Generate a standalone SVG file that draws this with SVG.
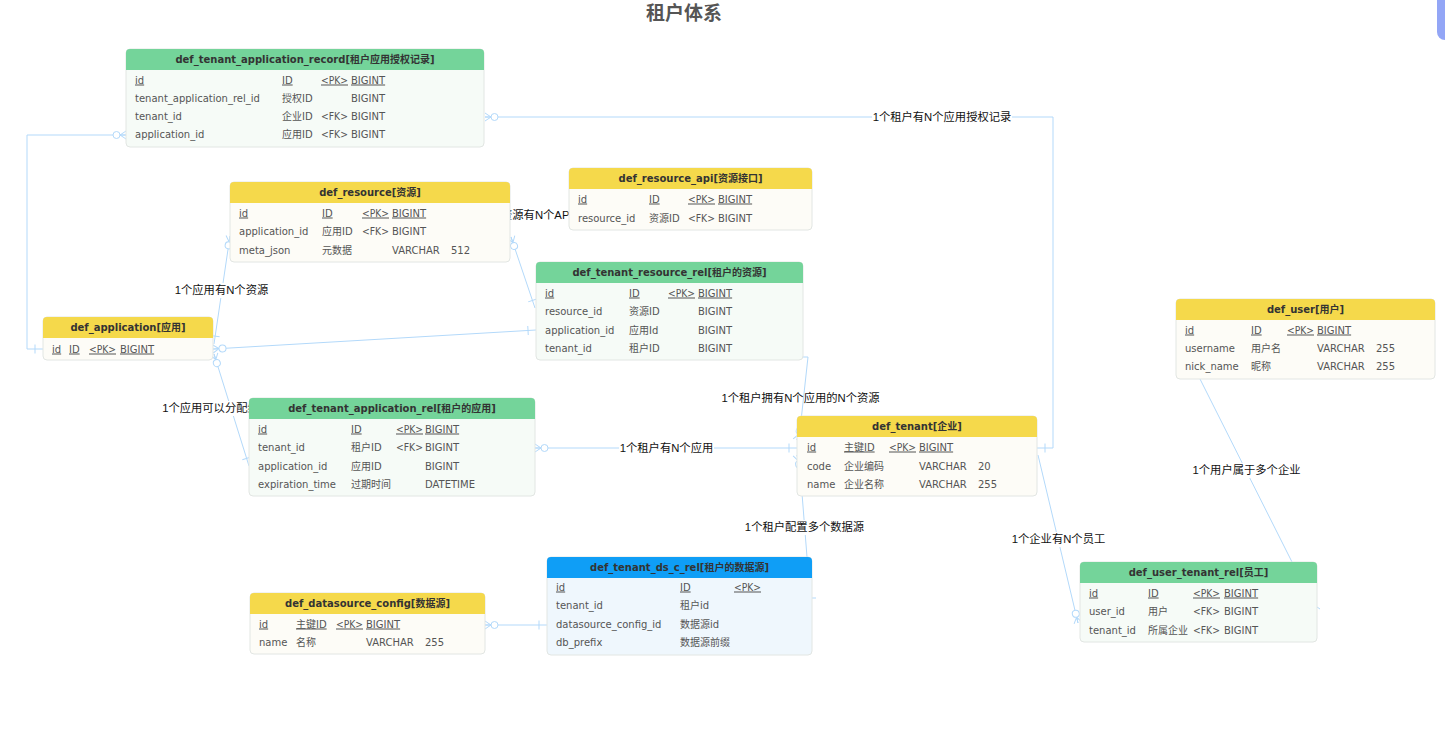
<svg xmlns="http://www.w3.org/2000/svg" width="1445" height="731" viewBox="0 0 1445 731">
<style>
.body{stroke:#e2e6e3;stroke-width:1}
.g .body{fill:#f6fbf7}.y .body{fill:#fdfcf7}.b .body{fill:#eff7fd}
.g .hdr{fill:#74d49a}.y .hdr{fill:#f5d94b}.b .hdr{fill:#0f9ef6}
.hd{font-family:"DejaVu Sans","Noto Sans CJK SC",sans-serif;font-size:10px;font-weight:bold;fill:#333;text-anchor:middle}
.c{font-family:"DejaVu Sans","Noto Sans CJK SC",sans-serif;font-size:10px;fill:#555}
.u{text-decoration:underline}
.lbl{font-family:"Liberation Sans","Noto Sans CJK SC",sans-serif;font-size:11.3px;fill:#111;text-anchor:middle}
.lb{fill:#fff}
.ln{fill:none;stroke:#b3d9fa;stroke-width:1}
.title{font-family:"Noto Sans CJK SC",sans-serif;font-size:19px;font-weight:bold;fill:#555;text-anchor:middle}
</style>
<defs>
<marker id="crowO" markerUnits="userSpaceOnUse" markerWidth="20" markerHeight="20" viewBox="-16 -8 20 16" refX="0" refY="0" orient="auto-start-reverse">
<path d="M0,-4 L-6,0 L0,4 M0,0 H-6" fill="none" stroke="#b3d9fa" stroke-width="1"/>
<circle cx="-9.5" cy="0" r="3.5" fill="#fff" stroke="#b3d9fa" stroke-width="1"/>
</marker>
<marker id="one" markerUnits="userSpaceOnUse" markerWidth="20" markerHeight="20" viewBox="-16 -8 20 16" refX="0" refY="0" orient="auto-start-reverse">
<path d="M-8,-4.5 V4.5" fill="none" stroke="#b3d9fa" stroke-width="1"/>
</marker>
</defs>
<rect width="1445" height="731" fill="#fff"/>
<rect x="1437" y="-20" width="30" height="60" rx="8" fill="#93a6f6"/>
<text class="title" x="684" y="20">租户体系</text>

<g id="connectors">
<path class="ln" d="M485,117 H1053 V448 H1037" marker-start="url(#crowO)" marker-end="url(#one)"/>
<path class="ln" d="M126,135 H27 V349 H43" marker-start="url(#crowO)" marker-end="url(#one)"/>
<path class="ln" d="M230,236 L214,344" marker-start="url(#crowO)" marker-end="url(#one)"/>
<path class="ln" d="M511,237 L535,308" marker-start="url(#crowO)" marker-end="url(#one)"/>
<path class="ln" d="M213,349 L536,330" marker-start="url(#crowO)" marker-end="url(#one)"/>
<path class="ln" d="M214,354 L249,466" marker-start="url(#crowO)" marker-end="url(#one)"/>
<path class="ln" d="M535,448 H797" marker-start="url(#crowO)" marker-end="url(#one)"/>
<path class="ln" d="M803,357 H808 L800,430 L797,440" marker-end="url(#crowO)"/>
<path class="ln" d="M797,455 L800,468 L807,557" marker-start="url(#crowO)"/>
<path class="ln" d="M485,625 H547" marker-start="url(#crowO)" marker-end="url(#one)"/>
<path class="ln" d="M1038,455 L1078,623" marker-end="url(#crowO)"/>
<path class="ln" d="M1200,379 L1292,562"/>
<path class="ln" d="M812,598 H816"/>
<path class="ln" d="M1317,607 L1320,609"/>
</g>

<g id="labels">
<rect class="lb" x="872" y="110" width="140" height="15"/>
<text class="lbl" x="942" y="121">1个租户有N个应用授权记录</text>
<rect class="lb" x="174" y="283" width="95" height="15"/>
<text class="lbl" x="221.5" y="294">1个应用有N个资源</text>
<rect class="lb" x="483" y="208" width="90" height="15"/>
<text class="lbl" x="528" y="219">1个资源有N个API</text>
<rect class="lb" x="161" y="401" width="141" height="15"/>
<text class="lbl" x="231.5" y="412">1个应用可以分配给N个租户</text>
<text class="lbl" x="800.5" y="402">1个租户拥有N个应用的N个资源</text>
<rect class="lb" x="619" y="441" width="95" height="15"/>
<text class="lbl" x="666.5" y="452">1个租户有N个应用</text>
<rect class="lb" x="744" y="520" width="121" height="15"/>
<text class="lbl" x="804.5" y="531">1个租户配置多个数据源</text>
<rect class="lb" x="1011" y="532" width="95" height="15"/>
<text class="lbl" x="1058.5" y="543">1个企业有N个员工</text>
<rect class="lb" x="1192" y="463" width="109" height="15"/>
<text class="lbl" x="1246.5" y="474">1个用户属于多个企业</text>
</g>

<g id="def_tenant_application_record" class="g">
<rect class="body" x="126" y="49" width="358" height="98" rx="4"/>
<path class="hdr" d="M126,70 V53 Q126,49 130,49 H480 Q484,49 484,53 V70 Z"/>
<text class="hd" x="305" y="63">def_tenant_application_record[租户应用授权记录]</text>
<text class="c u" x="135" y="83.5">id</text><text class="c u" x="282" y="83.5">ID</text><text class="c u" x="321" y="83.5" textLength="27" lengthAdjust="spacingAndGlyphs">&lt;PK&gt;</text><text class="c u" x="351" y="83.5">BIGINT</text>
<text class="c" x="135" y="101.5">tenant_application_rel_id</text><text class="c" x="282" y="101.5">授权ID</text><text class="c" x="351" y="101.5">BIGINT</text>
<text class="c" x="135" y="119.5">tenant_id</text><text class="c" x="282" y="119.5">企业ID</text><text class="c" x="321" y="119.5" textLength="27" lengthAdjust="spacingAndGlyphs">&lt;FK&gt;</text><text class="c" x="351" y="119.5">BIGINT</text>
<text class="c" x="135" y="137.5">application_id</text><text class="c" x="282" y="137.5">应用ID</text><text class="c" x="321" y="137.5" textLength="27" lengthAdjust="spacingAndGlyphs">&lt;FK&gt;</text><text class="c" x="351" y="137.5">BIGINT</text>
</g>

<g id="def_resource" class="y">
<rect class="body" x="230" y="182" width="280" height="80" rx="4"/>
<path class="hdr" d="M230,203 V186 Q230,182 234,182 H506 Q510,182 510,186 V203 Z"/>
<text class="hd" x="370" y="196">def_resource[资源]</text>
<text class="c u" x="239" y="216.5">id</text><text class="c u" x="322" y="216.5">ID</text><text class="c u" x="362" y="216.5" textLength="27" lengthAdjust="spacingAndGlyphs">&lt;PK&gt;</text><text class="c u" x="392" y="216.5">BIGINT</text>
<text class="c" x="239" y="234.5">application_id</text><text class="c" x="322" y="234.5">应用ID</text><text class="c" x="362" y="234.5" textLength="27" lengthAdjust="spacingAndGlyphs">&lt;FK&gt;</text><text class="c" x="392" y="234.5">BIGINT</text>
<text class="c" x="239" y="253.5">meta_json</text><text class="c" x="322" y="253.5">元数据</text><text class="c" x="392" y="253.5">VARCHAR</text><text class="c" x="451" y="253.5">512</text>
</g>

<g id="def_resource_api" class="y">
<rect class="body" x="569" y="168" width="243" height="62" rx="4"/>
<path class="hdr" d="M569,189 V172 Q569,168 573,168 H808 Q812,168 812,172 V189 Z"/>
<text class="hd" x="690.5" y="182">def_resource_api[资源接口]</text>
<text class="c u" x="578" y="202.5">id</text><text class="c u" x="649" y="202.5">ID</text><text class="c u" x="688" y="202.5" textLength="27" lengthAdjust="spacingAndGlyphs">&lt;PK&gt;</text><text class="c u" x="718" y="202.5">BIGINT</text>
<text class="c" x="578" y="221.5">resource_id</text><text class="c" x="649" y="221.5">资源ID</text><text class="c" x="688" y="221.5" textLength="27" lengthAdjust="spacingAndGlyphs">&lt;FK&gt;</text><text class="c" x="718" y="221.5">BIGINT</text>
</g>

<g id="def_tenant_resource_rel" class="g">
<rect class="body" x="536" y="262" width="267" height="98" rx="4"/>
<path class="hdr" d="M536,283 V266 Q536,262 540,262 H799 Q803,262 803,266 V283 Z"/>
<text class="hd" x="669.5" y="276">def_tenant_resource_rel[租户的资源]</text>
<text class="c u" x="545" y="296.5">id</text><text class="c u" x="629" y="296.5">ID</text><text class="c u" x="668" y="296.5" textLength="27" lengthAdjust="spacingAndGlyphs">&lt;PK&gt;</text><text class="c u" x="698" y="296.5">BIGINT</text>
<text class="c" x="545" y="314.5">resource_id</text><text class="c" x="629" y="314.5">资源ID</text><text class="c" x="698" y="314.5">BIGINT</text>
<text class="c" x="545" y="333.5">application_id</text><text class="c" x="629" y="333.5">应用Id</text><text class="c" x="698" y="333.5">BIGINT</text>
<text class="c" x="545" y="351.5">tenant_id</text><text class="c" x="629" y="351.5">租户ID</text><text class="c" x="698" y="351.5">BIGINT</text>
</g>

<g id="def_application" class="y">
<rect class="body" x="43" y="317" width="170" height="43" rx="4"/>
<path class="hdr" d="M43,338 V321 Q43,317 47,317 H209 Q213,317 213,321 V338 Z"/>
<text class="hd" x="128" y="331">def_application[应用]</text>
<text class="c u" x="52" y="352.5">id</text><text class="c u" x="69" y="352.5">ID</text><text class="c u" x="89" y="352.5" textLength="27" lengthAdjust="spacingAndGlyphs">&lt;PK&gt;</text><text class="c u" x="120" y="352.5">BIGINT</text>
</g>

<g id="def_tenant_application_rel" class="g">
<rect class="body" x="249" y="398" width="286" height="98" rx="4"/>
<path class="hdr" d="M249,419 V402 Q249,398 253,398 H531 Q535,398 535,402 V419 Z"/>
<text class="hd" x="392" y="412">def_tenant_application_rel[租户的应用]</text>
<text class="c u" x="258" y="432.5">id</text><text class="c u" x="351" y="432.5">ID</text><text class="c u" x="396" y="432.5" textLength="27" lengthAdjust="spacingAndGlyphs">&lt;PK&gt;</text><text class="c u" x="425" y="432.5">BIGINT</text>
<text class="c" x="258" y="450.5">tenant_id</text><text class="c" x="351" y="450.5">租户ID</text><text class="c" x="396" y="450.5" textLength="27" lengthAdjust="spacingAndGlyphs">&lt;FK&gt;</text><text class="c" x="425" y="450.5">BIGINT</text>
<text class="c" x="258" y="469.5">application_id</text><text class="c" x="351" y="469.5">应用ID</text><text class="c" x="425" y="469.5">BIGINT</text>
<text class="c" x="258" y="487.5">expiration_time</text><text class="c" x="351" y="487.5">过期时间</text><text class="c" x="425" y="487.5">DATETIME</text>
</g>

<g id="def_tenant" class="y">
<rect class="body" x="797" y="416" width="240" height="80" rx="4"/>
<path class="hdr" d="M797,437 V420 Q797,416 801,416 H1033 Q1037,416 1037,420 V437 Z"/>
<text class="hd" x="917" y="430">def_tenant[企业]</text>
<text class="c u" x="807" y="450.5">id</text><text class="c u" x="844" y="450.5">主键ID</text><text class="c u" x="889" y="450.5" textLength="27" lengthAdjust="spacingAndGlyphs">&lt;PK&gt;</text><text class="c u" x="919" y="450.5">BIGINT</text>
<text class="c" x="807" y="469.5">code</text><text class="c" x="844" y="469.5">企业编码</text><text class="c" x="919" y="469.5">VARCHAR</text><text class="c" x="978" y="469.5">20</text>
<text class="c" x="807" y="487.5">name</text><text class="c" x="844" y="487.5">企业名称</text><text class="c" x="919" y="487.5">VARCHAR</text><text class="c" x="978" y="487.5">255</text>
</g>

<g id="def_user" class="y">
<rect class="body" x="1176" y="299" width="259" height="80" rx="4"/>
<path class="hdr" d="M1176,320 V303 Q1176,299 1180,299 H1431 Q1435,299 1435,303 V320 Z"/>
<text class="hd" x="1305.5" y="313">def_user[用户]</text>
<text class="c u" x="1185" y="333.5">id</text><text class="c u" x="1251" y="333.5">ID</text><text class="c u" x="1287" y="333.5" textLength="27" lengthAdjust="spacingAndGlyphs">&lt;PK&gt;</text><text class="c u" x="1317" y="333.5">BIGINT</text>
<text class="c" x="1185" y="351.5">username</text><text class="c" x="1251" y="351.5">用户名</text><text class="c" x="1317" y="351.5">VARCHAR</text><text class="c" x="1376" y="351.5">255</text>
<text class="c" x="1185" y="369.5">nick_name</text><text class="c" x="1251" y="369.5">昵称</text><text class="c" x="1317" y="369.5">VARCHAR</text><text class="c" x="1376" y="369.5">255</text>
</g>

<g id="def_tenant_ds_c_rel" class="b">
<rect class="body" x="547" y="557" width="265" height="98" rx="4"/>
<path class="hdr" d="M547,578 V561 Q547,557 551,557 H808 Q812,557 812,561 V578 Z"/>
<text class="hd" x="679.5" y="571">def_tenant_ds_c_rel[租户的数据源]</text>
<text class="c u" x="556" y="590.5">id</text><text class="c u" x="680" y="590.5">ID</text><text class="c u" x="734" y="590.5" textLength="27" lengthAdjust="spacingAndGlyphs">&lt;PK&gt;</text>
<text class="c" x="556" y="608.5">tenant_id</text><text class="c" x="680" y="608.5">租户id</text>
<text class="c" x="556" y="627.5">datasource_config_id</text><text class="c" x="680" y="627.5">数据源id</text>
<text class="c" x="556" y="645.5">db_prefix</text><text class="c" x="680" y="645.5">数据源前缀</text>
</g>

<g id="def_datasource_config" class="y">
<rect class="body" x="250" y="593" width="235" height="61" rx="4"/>
<path class="hdr" d="M250,614 V597 Q250,593 254,593 H481 Q485,593 485,597 V614 Z"/>
<text class="hd" x="367.5" y="607">def_datasource_config[数据源]</text>
<text class="c u" x="259" y="627.5">id</text><text class="c u" x="296" y="627.5">主键ID</text><text class="c u" x="336" y="627.5" textLength="27" lengthAdjust="spacingAndGlyphs">&lt;PK&gt;</text><text class="c u" x="366" y="627.5">BIGINT</text>
<text class="c" x="259" y="645.5">name</text><text class="c" x="296" y="645.5">名称</text><text class="c" x="366" y="645.5">VARCHAR</text><text class="c" x="425" y="645.5">255</text>
</g>

<g id="def_user_tenant_rel" class="g">
<rect class="body" x="1080" y="562" width="237" height="80" rx="4"/>
<path class="hdr" d="M1080,583 V566 Q1080,562 1084,562 H1313 Q1317,562 1317,566 V583 Z"/>
<text class="hd" x="1198.5" y="576">def_user_tenant_rel[员工]</text>
<text class="c u" x="1089" y="596.5">id</text><text class="c u" x="1148" y="596.5">ID</text><text class="c u" x="1193" y="596.5" textLength="27" lengthAdjust="spacingAndGlyphs">&lt;PK&gt;</text><text class="c u" x="1224" y="596.5">BIGINT</text>
<text class="c" x="1089" y="614.5">user_id</text><text class="c" x="1148" y="614.5">用户</text><text class="c" x="1193" y="614.5" textLength="27" lengthAdjust="spacingAndGlyphs">&lt;FK&gt;</text><text class="c" x="1224" y="614.5">BIGINT</text>
<text class="c" x="1089" y="633.5">tenant_id</text><text class="c" x="1148" y="633.5">所属企业</text><text class="c" x="1193" y="633.5" textLength="27" lengthAdjust="spacingAndGlyphs">&lt;FK&gt;</text><text class="c" x="1224" y="633.5">BIGINT</text>
</g>
</svg>
